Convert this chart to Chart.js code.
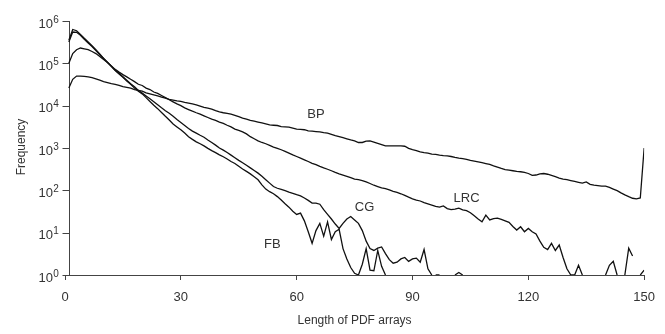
<!DOCTYPE html>
<html>
<head>
<meta charset="utf-8">
<script src="https://cdn.jsdelivr.net/npm/chart.js@4.4.0/dist/chart.umd.min.js"></script>
<style>
  html, body { margin: 0; padding: 0; background: #fff; }
</style>
</head>
<body>
<canvas id="chart" width="665" height="334"></canvas>
<script>
// PDF array length (x) - one entry per length 1..150
const lengths = [
  1, 2, 3, 4, 5, 6, 7, 8, 9, 10, 11, 12, 13, 14, 15, 16, 17, 18, 19, 20,
  21, 22, 23, 24, 25, 26, 27, 28, 29, 30, 31, 32, 33, 34, 35, 36, 37, 38, 39, 40,
  41, 42, 43, 44, 45, 46, 47, 48, 49, 50, 51, 52, 53, 54, 55, 56, 57, 58, 59, 60,
  61, 62, 63, 64, 65, 66, 67, 68, 69, 70, 71, 72, 73, 74, 75, 76, 77, 78, 79, 80,
  81, 82, 83, 84, 85, 86, 87, 88, 89, 90, 91, 92, 93, 94, 95, 96, 97, 98, 99, 100,
  101, 102, 103, 104, 105, 106, 107, 108, 109, 110, 111, 112, 113, 114, 115, 116, 117, 118, 119, 120,
  121, 122, 123, 124, 125, 126, 127, 128, 129, 130, 131, 132, 133, 134, 135, 136, 137, 138, 139, 140,
  141, 142, 143, 144, 145, 146, 147, 148, 149, 150
];

const bpFreq = [
  2.6e4, 4.2e4, 5.0e4, 5.0e4, 4.9e4, 4.8e4, 4.6e4, 4.3e4, 4.0e4, 3.7e4,
  3.5e4, 3.3e4, 3.2e4, 3.0e4, 2.8e4, 2.7e4, 2.6e4, 2.4e4, 2.3e4, 2.2e4,
  2.0e4, 1.9e4, 1.8e4, 1.7e4, 1.6e4, 1.5e4, 1.4e4, 1.35e4, 1.3e4, 1.26e4,
  1.2e4, 1.15e4, 1.1e4, 1.05e4, 9800, 9100, 8700, 8300, 7600, 7100,
  6800, 6600, 6300, 5900, 5500, 5100, 4800, 4500, 4300, 4100,
  3900, 3700, 3500, 3450, 3400, 3200, 3150, 3100, 2950, 2800,
  2750, 2700, 2550, 2500, 2450, 2400, 2300, 2250, 2100, 1950,
  1850, 1750, 1650, 1550, 1480, 1350, 1350, 1450, 1480, 1380,
  1290, 1200, 1120, 1120, 1120, 1120, 1120, 1100, 980, 910,
  870, 810, 780, 760, 720, 710, 680, 660, 650, 630,
  600, 575, 560, 540, 510, 490, 470, 450, 430, 410,
  380, 355, 330, 310, 300, 290, 280, 275, 265, 250,
  225, 230, 245, 250, 240, 225, 210, 195, 185, 178,
  170, 162, 155, 148, 158, 138, 132, 129, 126, 126,
  117, 107, 98, 87, 78, 71, 65, 63, 66, 1000
];

const lrcFreq = [
  1.0e5, 1.7e5, 2.1e5, 2.3e5, 2.2e5, 2.1e5, 1.9e5, 1.7e5, 1.45e5, 1.23e5,
  1.05e5, 8.7e4, 7.2e4, 6.2e4, 5.4e4, 4.8e4, 4.2e4, 3.7e4, 3.2e4, 3.0e4,
  2.6e4, 2.4e4, 2.1e4, 1.95e4, 1.74e4, 1.55e4, 1.38e4, 1.23e4, 1.1e4, 1.0e4,
  8900, 8100, 7400, 6800, 6300, 5750, 5250, 4800, 4500, 4100,
  3800, 3450, 3150, 2800, 2600, 2400, 2150, 1850, 1650, 1480,
  1350, 1260, 1150, 1050, 980, 910, 830, 760, 690, 630,
  575, 525, 480, 435, 405, 370, 340, 315, 290, 265,
  245, 230, 215, 200, 185, 178, 170, 158, 145, 132,
  123, 115, 110, 102, 95, 89, 83, 76, 69, 63,
  59, 56, 51, 48, 45, 42, 40, 43, 37, 35,
  36, 38, 34.5, 33, 29.5, 25, 21, 18, 26, 20,
  21.5, 22, 20.5, 19, 17.5, 14, 11.5, 13.8, 10.5, 12.6,
  10.5, 9.3, 6.3, 4.5, 4.0, 5.6, 3.8, 5.1, 2.6, 1.4,
  1, 1, 1.7, 1, null, null, null, null, null, 1,
  1.7, 2.1, 1, null, 1, 4.3, 2.8, null, 1, 1.3
];

const cgFreq = [
  3.2e5, 5.5e5, 5.4e5, 4.6e5, 3.7e5, 3.0e5, 2.5e5, 2.0e5, 1.6e5, 1.3e5,
  1.05e5, 8.5e4, 6.9e4, 5.8e4, 4.8e4, 4.0e4, 3.3e4, 2.8e4, 2.3e4, 2.0e4,
  1.7e4, 1.45e4, 1.23e4, 1.05e4, 8900, 7600, 6600, 5600, 4700, 4000,
  3400, 2900, 2500, 2250, 2000, 1800, 1550, 1350, 1170, 1000,
  890, 780, 680, 590, 510, 450, 390, 340, 295, 255,
  215, 178, 148, 123, 112, 105, 98, 91, 85, 79,
  74, 66, 58, 50, 50, 47, 35, 27, 21, 16,
  12.6, 16.6, 21, 24, 20, 16.6, 11.2, 6.3, 4.2, 3.8,
  4.3, 4.6, 3.2, 2.3, 1.9, 2.0, 2.4, 2.6, 2.1, 2.4,
  2.5, 2.0, 4.0, 1.4, 1, null, null, null, null, null,
  null, null, null, null, null, null, null, null, null, null,
  null, null, null, null, null, null, null, null, null, null,
  null, null, null, null, null, null, null, null, null, null,
  null, null, null, null, null, null, null, null, null, null,
  null, null, null, null, null, null, null, null, null, null
];

const fbFreq = [
  3.5e5, 6.3e5, 5.9e5, 4.8e5, 3.9e5, 3.2e5, 2.6e5, 2.1e5, 1.66e5, 1.3e5,
  1.07e5, 8.5e4, 6.8e4, 5.6e4, 4.7e4, 3.8e4, 3.2e4, 2.6e4, 2.2e4, 1.9e4,
  1.55e4, 1.26e4, 1.02e4, 8500, 6900, 5600, 4600, 3700, 3150, 2700,
  2250, 1850, 1600, 1400, 1260, 1120, 980, 870, 780, 690,
  620, 550, 480, 430, 370, 320, 280, 245, 210, 178,
  135, 107, 93, 83, 71, 59, 48, 40, 32, 27,
  29, 19, 10.5, 5.6, 11.2, 16.6, 8.3, 18, 6.9, 10.5,
  12, 4.2, 2.4, 1.5, 1.1, 1, 1.8, 4.2, 1.3, 1.26,
  3.8, 1.6, 1, null, null, null, null, null, null, null,
  null, null, null, null, null, 1, 1, null, null, null,
  1, 1.15, 1, null, null, null, null, null, null, null,
  null, null, null, null, null, null, null, null, null, null,
  null, null, null, null, null, null, null, null, null, null,
  null, null, null, null, null, null, null, null, null, null,
  null, null, null, null, null, null, null, null, null, null
];

const xTicks = [0, 30, 60, 90, 120, 150];
const yExponents = [0, 1, 2, 3, 4, 5, 6];

const series = [
  { name: 'BP', values: bpFreq },
  { name: 'LRC', values: lrcFreq },
  { name: 'CG', values: cgFreq },
  { name: 'FB', values: fbFreq }
];

// where the curve names sit, in data units
const curveLabels = [
  { text: 'BP', x: 65, y: 6.5e3 },
  { text: 'LRC', x: 104, y: 69 },
  { text: 'CG', x: 77.6, y: 41 },
  { text: 'FB', x: 53.7, y: 5.7 }
];

const FONT = '"Liberation Sans", Arial, sans-serif';
const TEXT = '#333';
const AXIS = '#444';

Chart.defaults.font.family = FONT;

// y axis (drawn at length 1), its power-of-ten labels, axis titles and curve names
const figureText = {
  id: 'figureText',
  beforeDatasetsDraw(chart) {
    const ctx = chart.ctx;
    const xs = chart.scales.x, ys = chart.scales.y;
    const ax = Math.round(xs.getPixelForValue(lengths[0])) + 0.5;
    ctx.save();
    ctx.strokeStyle = AXIS;
    ctx.lineWidth = 1;
    ctx.beginPath();
    ctx.moveTo(ax, ys.getPixelForValue(1e6));
    ctx.lineTo(ax, ys.getPixelForValue(1));
    yExponents.forEach(e => {
      const y = Math.round(ys.getPixelForValue(Math.pow(10, e))) + 0.5;
      ctx.moveTo(ax - 7, y);
      ctx.lineTo(ax, y);
    });
    ctx.stroke();
    ctx.restore();
  },
  afterDraw(chart) {
    const ctx = chart.ctx;
    const xs = chart.scales.x, ys = chart.scales.y;
    const ax = xs.getPixelForValue(lengths[0]);
    ctx.save();
    ctx.fillStyle = TEXT;
    ctx.textBaseline = 'alphabetic';

    yExponents.forEach(e => {
      const y = ys.getPixelForValue(Math.pow(10, e));
      ctx.font = '13px ' + FONT;
      ctx.textAlign = 'right';
      ctx.fillText('10', ax - 16, y + 6.5);
      ctx.font = '10px ' + FONT;
      ctx.textAlign = 'left';
      ctx.fillText(String(e), ax - 15.5, y + 1.5);
    });

    ctx.font = '13px ' + FONT;
    ctx.textAlign = 'center';
    curveLabels.forEach(l => {
      ctx.fillText(l.text, xs.getPixelForValue(l.x), ys.getPixelForValue(l.y) + 4.5);
    });

    ctx.font = '12px ' + FONT;
    ctx.fillText('Length of PDF arrays', (chart.chartArea.left + chart.chartArea.right) / 2, 324);

    ctx.translate(22, 147);
    ctx.rotate(-Math.PI / 2);
    ctx.textBaseline = 'middle';
    ctx.fillText('Frequency', 0, 0);
    ctx.restore();
  }
};

new Chart(document.getElementById('chart'), {
  type: 'line',
  data: {
    datasets: series.map(s => ({
      label: s.name,
      data: lengths.map((len, i) => ({ x: len, y: s.values[i] })),
      borderColor: '#111',
      borderWidth: 1.3,
      pointRadius: 0,
      tension: 0,
      fill: false,
      spanGaps: false
    }))
  },
  options: {
    responsive: false,
    animation: false,
    layout: { padding: { left: 65, right: 20, top: 21, bottom: 0 } },
    plugins: { legend: { display: false }, tooltip: { enabled: false } },
    scales: {
      x: {
        type: 'linear',
        min: 0,
        max: 150,
        afterBuildTicks: scale => { scale.ticks = xTicks.map(v => ({ value: v })); },
        afterFit: scale => { scale.height = 59; },
        ticks: { color: TEXT, font: { size: 13 }, padding: 10, maxRotation: 0 },
        grid: { display: true, drawOnChartArea: false, drawTicks: true, tickLength: 5, color: AXIS, lineWidth: 1 },
        border: { display: true, color: AXIS, width: 1 }
      },
      y: {
        type: 'logarithmic',
        min: 1,
        max: 1e6,
        display: false
      }
    }
  },
  plugins: [figureText]
});
</script>
</body>
</html>
